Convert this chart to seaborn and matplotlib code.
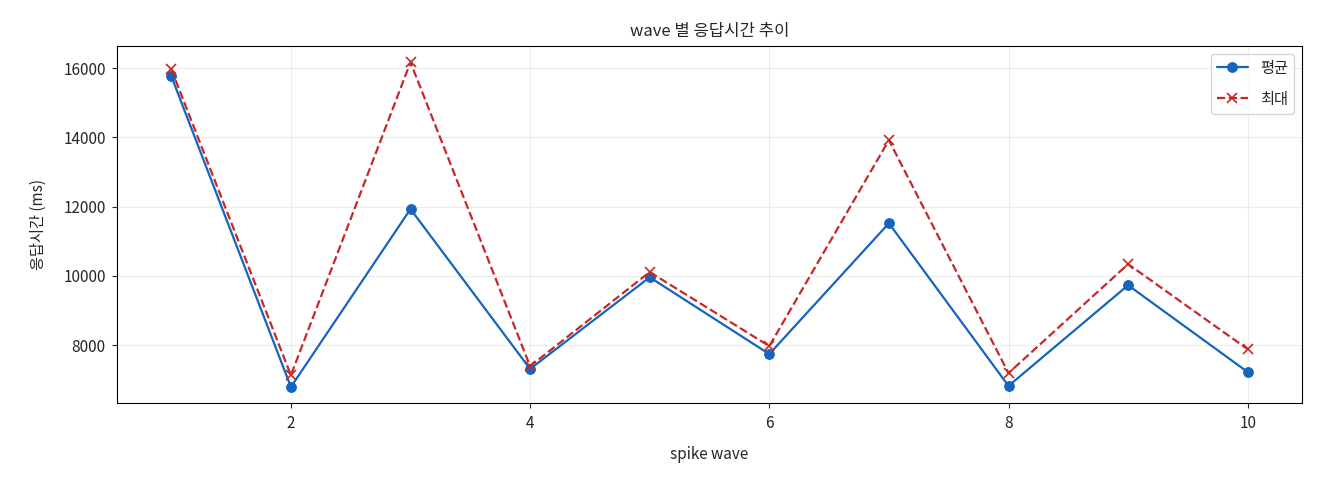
import numpy as np
import pandas as pd
import matplotlib
matplotlib.use("Agg")
import matplotlib.pyplot as plt
import seaborn as sns

# wave data
waves = [1, 2, 3, 4, 5, 6, 7, 8, 9, 10]
avg_ms = [15770, 6790, 11930, 7310, 9960, 7740, 11520, 6820, 9730, 7220]
max_ms = [15970, 7130, 16170, 7390, 10110, 7970, 13920, 7190, 10340, 7880]

sns.set_style("ticks")
plt.rcParams['font.family'] = ['Noto Sans CJK KR', 'DejaVu Sans']
plt.rcParams['axes.unicode_minus'] = False

df = pd.DataFrame({"wave": waves, "평균": avg_ms, "최대": max_ms})

fig, ax = plt.subplots(figsize=(13.2, 4.8), dpi=100)
sns.lineplot(data=df, x="wave", y="평균", marker="o", markersize=7, color="#1565C0",
             markeredgecolor="#1565C0", linewidth=1.6, label="평균", ax=ax)
sns.lineplot(data=df, x="wave", y="최대", marker="x", markersize=7, color="#C62828",
             markeredgecolor="#C62828", markeredgewidth=1.2,
             linewidth=1.6, linestyle="--", label="최대", ax=ax)

ax.set_title("wave 별 응답시간 추이", fontsize=12, pad=7)
ax.set_xlabel("spike wave", fontsize=11, labelpad=10)
ax.set_ylabel("응답시간 (ms)", fontsize=11, labelpad=12)
ax.tick_params(labelsize=11, pad=5)
for s in ax.spines.values():
    s.set_color("black")
ax.grid(True, alpha=0.35)
ax.legend(loc="upper right", fontsize=11, labelspacing=0.9)
fig.subplots_adjust(left=0.089, right=0.986, top=0.904, bottom=0.16)
plt.savefig("out.png", dpi=100)
